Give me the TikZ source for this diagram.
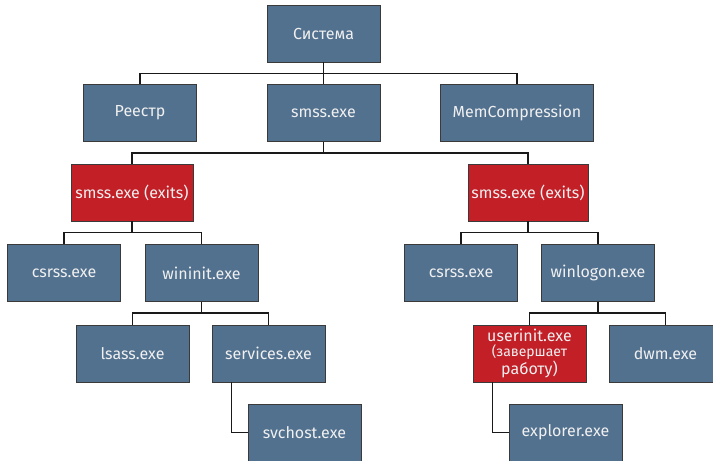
\documentclass[tikz,border=0pt]{standalone}
\usepackage{fontspec}
\setmainfont{Fira Sans}
\definecolor{PROCblue}{HTML}{52718F}
\definecolor{PROCred}{HTML}{C21F27}
\definecolor{PROCedge}{HTML}{3A3A3A}
\usetikzlibrary{positioning}

\begin{document}
\begin{tikzpicture}[
      x=1pt, y=-1pt,
      proc/.style={draw=PROCedge, line width=0.8pt, fill=PROCblue, text=white!94!black,
                   minimum width=113pt, minimum height=57pt, inner sep=2pt,
                   font=\fontsize{16}{18}\selectfont, align=center},
      done/.style={proc, fill=PROCred},
      link/.style={line width=1.2pt, black!90},
   ]
      \useasboundingbox (0,0) rectangle (713,461);

      % top level
      \node[proc] (sys) at (323.5,33.5) {Система};
      \node[proc] (reg) at (140,113) {Реестр};
      \node[proc] (smss) at (323.5,113) {smss.exe};
      \node[proc, minimum width=153pt] (mem) at (517,113) {MemCompression};

      % session smss
      \node[done, minimum width=122pt] (smssL) at (132,192.5) {smss.exe (exits)};
      \node[done, minimum width=120pt] (smssR) at (528,192.5) {smss.exe (exits)};

      % session 0
      \node[proc] (csrssL) at (64,273) {csrss.exe};
      \node[proc] (wininit) at (201.5,273) {wininit.exe};
      \node[proc] (lsass) at (132.5,353.5) {lsass.exe};
      \node[proc] (services) at (268.5,353.5) {services.exe};
      \node[proc] (svchost) at (304.5,432.5) {svchost.exe};

      % session 1
      \node[proc] (csrssR) at (461,273) {csrss.exe};
      \node[proc] (winlogon) at (598,273) {winlogon.exe};
      \node[done] (userinit) at (529.5,353.5)
         {userinit.exe\\[-3pt]\fontsize{14}{15}\selectfont (завершает\\работу)};
      \node[proc] (dwm) at (665.5,353.5) {dwm.exe};
      \node[proc] (explorer) at (565.5,432.5) {explorer.exe};

      % tree links
      \foreach \mom/\kid in {sys/reg, sys/smss, sys/mem, smss/smssL, smss/smssR,
                             smssL/csrssL, smssL/wininit, wininit/lsass, wininit/services,
                             smssR/csrssR, smssR/winlogon, winlogon/userinit, winlogon/dwm}
         \draw[link] (\mom.south) -- ++(0,11) -| (\kid.north);

      % elbows
      \draw[link] ([xshift=20pt]services.south west) |- (svchost.west);
      \draw[link] ([xshift=20pt]userinit.south west) |- (explorer.west);
   \end{tikzpicture}
\end{document}
